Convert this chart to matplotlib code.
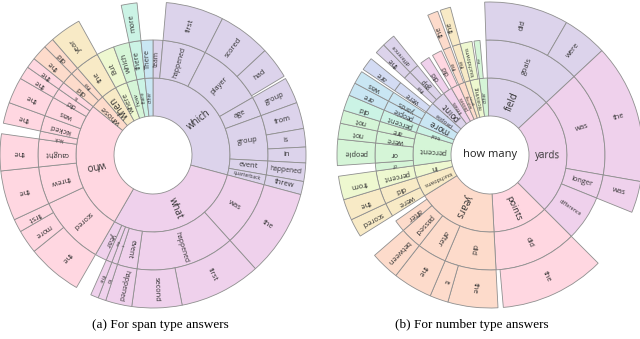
import numpy as np
import matplotlib.pyplot as plt

plt.rcParams['font.family'] = ['Open Sans', 'DejaVu Sans']

# ---------------- (a) span type answers ----------------
span_l1 = ['which', 'what', 'who', 'whose', 'when', 'where', 'how', 'there', 'other']
span_l1_val = [105, 105, 99, 10, 12, 9, 8, 6, 6]

span_l2 = ['team', 'happened', 'player', 'age', 'group', 'event', 'quarterback',
           'was', 'happened', 'event', 'it', 'the', 'year',
           'scored', 'threw', 'caught', 'kick', 'kicked', 'was', 'did', 'is',
           'did', 'the', 'the', 'But', 'which', 'there', 'There']
span_l2_parent = [0, 0, 0, 0, 0, 0, 0,
                  1, 1, 1, 1, 1, 1,
                  2, 2, 2, 2, 2, 2, 2, 2,
                  3, 3, 4, 5, 6, 7, 8]
span_l2_val = [5, 22, 33, 10, 23, 7, 5,
               33, 50, 10, 3, 3, 6,
               35, 19, 14, 4, 8, 10, 5, 4,
               6, 4, 12, 9, 8, 6, 6]

span_l3 = ['first', 'scored', 'had', 'group', 'from', 'is', 'in', 'happened', 'threw',
           'the', 'first', 'second', 'happened', 'to', 'the',
           'the', 'more', 'first', 'the', 'the', 'the', 'the', 'the', 'the',
           'the', 'did', 'year', 'more']
span_l3_parent = [1, 2, 2, 3, 4, 4, 4, 5, 6,
                  7, 8, 8, 9, 10, 11,
                  13, 13, 13, 14, 15, 17, 18, 19, 20,
                  21, 22, 23, 26]
span_l3_val = [22, 20, 12, 10, 10, 7, 6, 7, 5,
               33, 31, 19, 10, 3, 3,
               21, 9, 5, 19, 14, 8, 10, 5, 4,
               6, 4, 12, 6]

# ---------------- (b) number type answers ----------------
num_l1 = ['field', 'yards', 'points', 'years', 'touchdowns', 'in', 'percent',
          'total', 'more', 'people', 'point', 'times', 'passes', 'rushing',
          'games', 'receiving', 'other']
num_l1_val = [49, 88, 42, 61, 15, 9, 25, 6, 11, 8, 11, 7, 6, 5, 4, 7, 6]

num_l2 = ['goals', 'was', 'longer', 'difference', 'did',
          'did', 'after', 'passed', 'after', 'were', 'did', 'percent',
          'of', 'or', 'were', 'are', 'percent', 'people', 'yards', 'were',
          'the', 'gap', 'did', 'did', 'the', 'the', 'touchdowns', 'the']
num_l2_parent = [0, 1, 1, 1, 2,
                 3, 3, 3, 3, 4, 4, 5,
                 6, 6, 6, 6, 7, 8, 8, 9,
                 10, 10, 11, 12, 13, 14, 15, 16]
num_l2_val = [49, 53, 12, 23, 42,
              26, 15, 11, 6, 7, 8, 9,
              4, 10, 6, 5, 6, 5, 5, 5,
              4, 5, 5, 5, 4, 4, 6, 3]

num_l3 = ['did', 'were', 'the', 'was', 'the',
          'the', 'it', 'the', 'between', 'scored', 'the', 'from',
          'people', 'not', 'not', 'did', 'are', 'was', 'are',
          'the', 'difference', 'the', 'the']
num_l3_parent = [0, 0, 1, 2, 4,
                 5, 5, 6, 7, 9, 10, 11,
                 13, 14, 15, 16, 17, 18, 19,
                 20, 21, 24, 25]
num_l3_val = [32, 17, 53, 12, 40,
              19, 7, 15, 11, 7, 8, 9,
              10, 6, 5, 6, 5, 5, 5,
              4, 5, 4, 4]

# ---------------- style ----------------
PALETTE = ['#DCD3EB', '#EFD1EC', '#FFD7E1', '#FDDBCB', '#F8EAC6',
           '#EEF8D0', '#D5F5D7', '#CBF3E5', '#C9E6F3', '#D3DBF3']
EDGE = '#8f8f8f'
TXT = '#333333'
RADII = [39, 77, 115, 153]


def fit_size(label, r0, r1, width_deg, base):
    rl = (r1 - r0) * 0.86
    arc = np.deg2rad(width_deg) * (r0 + r1) / 2 * 0.92
    fs_px = min(base / 0.72, rl / (0.60 * max(len(label), 1)), arc / 1.15)
    return fs_px * 0.72


def place(values, parents, parent_start):
    starts = []
    cursor = {}
    for v, p in zip(values, parents):
        s = cursor.get(p, parent_start[p])
        starts.append(s)
        cursor[p] = s + v
    return np.array(starts, dtype=float)


def ring(ax, labels, starts, values, colors, level, base):
    r0, r1 = RADII[level - 1], RADII[level]
    th = np.deg2rad(starts + np.asarray(values) / 2)
    ax.bar(th, r1 - r0, width=np.deg2rad(values), bottom=r0, color=colors,
           edgecolor=EDGE, linewidth=0.6, align='center', clip_on=False)
    for lab, s, v in zip(labels, starts, values):
        fs = fit_size(lab, r0, r1, v, base)
        if fs < 1.4:
            continue
        cw = s + v / 2
        rot = 90 - cw
        ax.text(np.deg2rad(cw), (r0 + r1) / 2, lab, rotation=rot,
                rotation_mode='anchor', ha='center', va='center',
                fontsize=fs, color=TXT)


def sunburst(ax, l1, v1, l2, p2, v2, l3, p3, v3, start, center=None):
    ax.set_theta_zero_location('N')
    ax.set_theta_direction(-1)
    v1 = np.asarray(v1, float)
    s1 = start + np.concatenate([[0], np.cumsum(v1)[:-1]])
    c1 = [PALETTE[i % len(PALETTE)] for i in range(len(l1))]
    s2 = place(v2, p2, s1)
    c2 = [c1[p] for p in p2]
    s3 = place(v3, p3, s2)
    c3 = [c2[p] for p in p3]
    ring(ax, l1, s1, v1, c1, 1, 7.0)
    ring(ax, l2, s2, np.asarray(v2, float), c2, 2, 5.4)
    ring(ax, l3, s3, np.asarray(v3, float), c3, 3, 5.4)
    if center:
        ax.text(0, 0, center, ha='center', va='center', fontsize=8, color='#222222')
    ax.set_ylim(0, RADII[-1])
    ax.axis('off')


fig = plt.figure(figsize=(6.4, 3.39), dpi=100)
ax1 = fig.add_axes([0 / 640, 31 / 339, 306 / 640, 306 / 339], projection='polar')
sunburst(ax1, span_l1, span_l1_val, span_l2, span_l2_parent, span_l2_val,
         span_l3, span_l3_parent, span_l3_val, start=0)
ax2 = fig.add_axes([337 / 640, 31 / 339, 306 / 640, 306 / 339], projection='polar')
sunburst(ax2, num_l1, num_l1_val, num_l2, num_l2_parent, num_l2_val,
         num_l3, num_l3_parent, num_l3_val, start=-2, center='how many')

cap = dict(ha='center', va='center', fontsize=9.5, family='Liberation Serif', color='black')
fig.text(160 / 640, 1 - 325 / 339, '(a) For span type answers', **cap)
fig.text(472 / 640, 1 - 325 / 339, '(b) For number type answers', **cap)

fig.savefig('out.png', dpi=100)
